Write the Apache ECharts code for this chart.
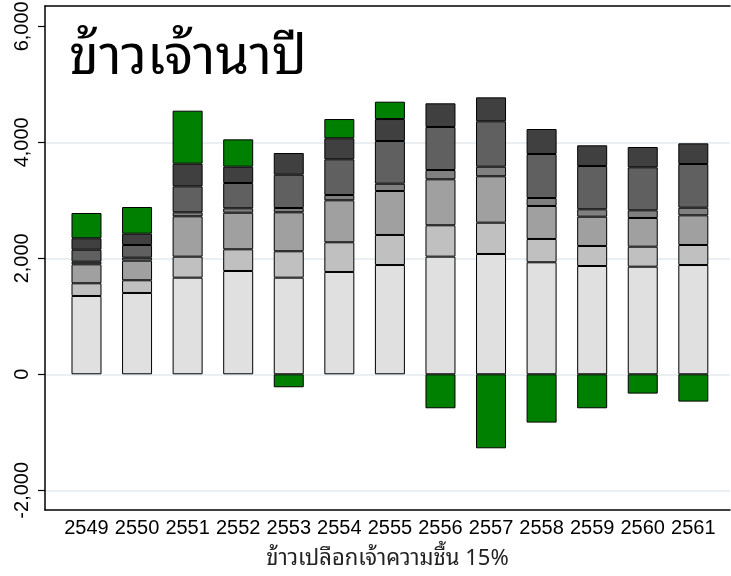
<!DOCTYPE html>
<html>
<head>
<meta charset="utf-8">
<script src="https://cdn.jsdelivr.net/npm/echarts@6/dist/echarts.min.js"></script>
<style>
html,body{margin:0;padding:0;background:#fff;}
#c{width:731px;height:576px;}
</style>
</head>
<body>
<div id="c"></div>
<script>
var years = ['2549','2550','2551','2552','2553','2554','2555','2556','2557','2558','2559','2560','2561'];
var seg1 = [1350, 1402, 1666, 1781, 1666, 1764, 1884, 2028, 2074, 1931, 1867, 1855, 1884];
var seg2 = [219, 219, 362, 374, 455, 512, 518, 541, 540, 402, 345, 345, 345];
var seg3 = [327, 338, 696, 631, 672, 724, 758, 793, 800, 569, 505, 495, 512];
var seg4 = [45, 51, 69, 76, 74, 91, 126, 160, 165, 137, 128, 132, 131];
var seg5 = [207, 219, 448, 436, 574, 616, 736, 742, 783, 759, 746, 742, 754];
var seg6 = [197, 195, 390, 281, 374, 362, 379, 408, 413, 431, 357, 350, 356];
var profit = [436, 460, 914, 472, -224, 332, 299, -586, -1276, -833, -586, -333, -471];
var yTicks = [-2000, 0, 2000, 4000, 6000];
var yGrid = [-2000, 0, 2000, 4000];
var titleText = 'ข้าวเจ้านาปี';
var xTitle = 'ข้าวเปลือกเจ้าความชื้น 15%';

var segs = [seg1, seg2, seg3, seg4, seg5, seg6, profit];
var colors = ['#e0e0e0', '#c0c0c0', '#a0a0a0', '#808080', '#606060', '#404040', '#008000'];

var chart = echarts.init(document.getElementById('c'), null, {renderer: 'canvas'});
var thaiFont = '"Noto Sans Thai Looped", "Noto Sans Thai", "Noto Sans", sans-serif';
var numFont = '"Liberation Sans", Arial, sans-serif';
var yMin = -2340, yMax = 6350;

var series = segs.map(function (arr, k) {
  return {
    type: 'bar',
    stack: 'total',
    xAxisIndex: 2,
    yAxisIndex: 2,
    barWidth: 30,
    data: arr.slice(),
    itemStyle: {color: colors[k], borderColor: '#000', borderWidth: 1},
    emphasis: {disabled: true},
    animation: false
  };
});

chart.setOption({
  animation: false,
  title: {
    text: titleText,
    left: 64,
    top: 27,
    textStyle: {fontFamily: thaiFont, fontSize: 54, fontWeight: 'normal', color: '#000'}
  },
  grid: [
    {left: 45, right: 1, top: 6, bottom: 66, containLabel: false, outerBoundsMode: 'none'},
    {left: 61.2, width: 657.4, top: 6, bottom: 66, containLabel: false, outerBoundsMode: 'none'}
  ],
  xAxis: [{
    gridIndex: 0,
    type: 'value', min: 0, max: 1,
    position: 'bottom',
    axisLine: {show: true, onZero: false, lineStyle: {color: '#000', width: 1.5}},
    axisTick: {show: false},
    axisLabel: {show: false},
    splitLine: {show: false},
    name: xTitle,
    nameLocation: 'middle',
    nameGap: 38,
    nameTextStyle: {fontFamily: thaiFont, fontSize: 22, color: '#222'}
  }, {
    gridIndex: 0,
    type: 'value', min: 0, max: 1,
    position: 'top',
    axisLine: {show: true, onZero: false, lineStyle: {color: '#000', width: 1.5}},
    axisTick: {show: false},
    axisLabel: {show: false},
    splitLine: {show: false}
  }, {
    gridIndex: 1,
    type: 'category',
    data: years,
    position: 'bottom',
    axisLine: {show: false, onZero: false},
    axisTick: {show: false},
    splitLine: {show: false},
    axisLabel: {fontFamily: numFont, fontSize: 20, color: '#000', margin: 8, interval: 0}
  }],
  yAxis: [{
    gridIndex: 0,
    type: 'value', min: yMin, max: yMax,
    axisLine: {show: true, onZero: false, lineStyle: {color: '#000', width: 1.5}},
    axisTick: {show: true, customValues: yTicks, length: 7, lineStyle: {color: '#000', width: 1.2}},
    axisLabel: {
      customValues: yTicks,
      rotate: 90,
      formatter: function (v) { return v.toLocaleString('en-US'); },
      fontFamily: numFont, fontSize: 20, color: '#000', margin: 13
    },
    splitLine: {show: false}
  }, {
    gridIndex: 0,
    type: 'value', min: yMin, max: yMax,
    position: 'left',
    axisLine: {show: false},
    axisTick: {show: false, customValues: yGrid},
    axisLabel: {show: false, customValues: yGrid},
    splitLine: {show: true, lineStyle: {color: '#e9eff3', width: 2}}
  }, {
    gridIndex: 1,
    type: 'value', min: yMin, max: yMax,
    axisLine: {show: false},
    axisTick: {show: false},
    axisLabel: {show: false},
    splitLine: {show: false}
  }],
  series: series
});
</script>
</body>
</html>
